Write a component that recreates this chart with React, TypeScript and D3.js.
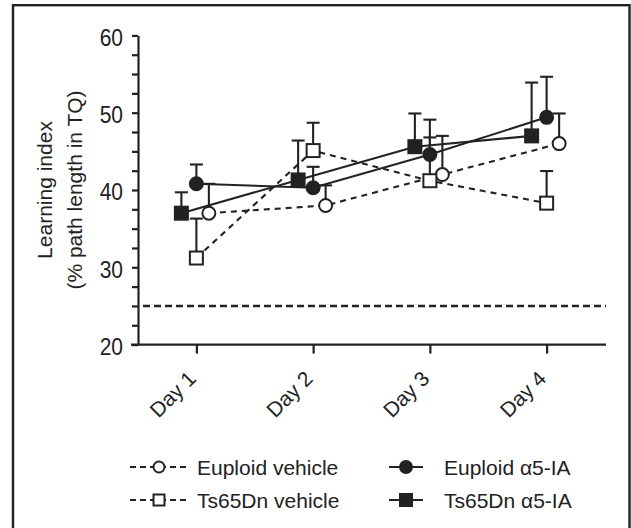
import React, { useRef, useEffect } from "react";
import * as d3 from "d3";

const width = 631;
const height = 528;

const days = ["Day 1", "Day 2", "Day 3", "Day 4"];
const yTicks = [20, 30, 40, 50, 60];
const chanceLevel = 25;

const euploidVehicle = [37.0, 38.0, 42.0, 46.0];
const euploidVehicleSem = [3.8, 2.6, 5.0, 3.9];
const ts65dnVehicle = [31.2, 45.1, 41.2, 38.3];
const ts65dnVehicleSem = [5.1, 3.6, 5.6, 4.15];
const euploidDrug = [40.8, 40.3, 44.6, 49.4];
const euploidDrugSem = [2.5, 2.7, 4.5, 5.25];
const ts65dnDrug = [37.0, 41.3, 45.6, 47.0];
const ts65dnDrugSem = [2.7, 5.1, 4.3, 6.9];

const font = "'Liberation Sans', Arial, sans-serif";
const ink = "#222";

type Series = {
  name: string;
  values: number[];
  sem: number[];
  shape: "circle" | "square";
  filled: boolean;
  dashed: boolean;
  dx: number;
};

const series: Series[] = [
  { name: "Euploid vehicle", values: euploidVehicle, sem: euploidVehicleSem, shape: "circle", filled: false, dashed: true, dx: 12.5 },
  { name: "Ts65Dn vehicle", values: ts65dnVehicle, sem: ts65dnVehicleSem, shape: "square", filled: false, dashed: true, dx: 0 },
  { name: "Euploid α5-IA", values: euploidDrug, sem: euploidDrugSem, shape: "circle", filled: true, dashed: false, dx: 0 },
  { name: "Ts65Dn α5-IA", values: ts65dnDrug, sem: ts65dnDrugSem, shape: "square", filled: true, dashed: false, dx: -15 },
];

function drawMarker(g: any, s: Series, cx: number, cy: number, size: number) {
  if (s.shape === "circle") {
    g.append("circle")
      .attr("cx", cx)
      .attr("cy", cy)
      .attr("r", size / 2)
      .attr("fill", s.filled ? ink : "#fff")
      .attr("stroke", ink)
      .attr("stroke-width", 2);
  } else {
    g.append("rect")
      .attr("x", cx - size / 2)
      .attr("y", cy - size / 2)
      .attr("width", size)
      .attr("height", size)
      .attr("fill", s.filled ? ink : "#fff")
      .attr("stroke", ink)
      .attr("stroke-width", 2);
  }
}

export default function App() {
  const ref = useRef<SVGSVGElement | null>(null);

  useEffect(() => {
    const svg = d3.select(ref.current);
    svg.selectAll("*").remove();

    const x = d3.scalePoint<string>().domain(days).range([138, 605]).padding(0.5);
    const y = d3.scaleLinear().domain([20, 60]).range([344.6, 35.4]);

    // frame
    svg
      .append("rect")
      .attr("x", 13)
      .attr("y", 5.2)
      .attr("width", 616.5)
      .attr("height", 540)
      .attr("fill", "none")
      .attr("stroke", ink)
      .attr("stroke-width", 2.4);

    // Y axis
    const yAxis = svg
      .append("g")
      .attr("transform", "translate(138,0)")
      .call(
        d3
          .axisLeft(y)
          .tickValues(d3.range(20, 60.01, 2.5))
          .tickSize(6)
          .tickSizeOuter(0)
          .tickFormat((d: any) => (yTicks.includes(+d) ? String(d) : ""))
      );
    yAxis.select(".domain").attr("stroke", ink).attr("stroke-width", 2.2);
    yAxis.selectAll(".tick line").attr("stroke", ink).attr("stroke-width", 2.2);
    yAxis
      .selectAll(".tick text")
      .attr("x", -15)
      .attr("transform", "translate(0,2.5) scale(1,1.1)")
      .attr("fill", ink)
      .attr("font-size", 21)
      .attr("font-family", font);

    // X axis
    const xAxis = svg
      .append("g")
      .attr("transform", "translate(0,344.6)")
      .call(d3.axisBottom(x).tickSize(9).tickSizeOuter(0).tickFormat(() => ""));
    xAxis.select(".domain").remove();
    xAxis.selectAll(".tick line").attr("stroke", ink).attr("stroke-width", 2.2);
    svg
      .append("line")
      .attr("x1", 131)
      .attr("x2", 606)
      .attr("y1", 344.6)
      .attr("y2", 344.6)
      .attr("stroke", ink)
      .attr("stroke-width", 2.2);

    svg
      .selectAll("text.day")
      .data(days)
      .enter()
      .append("text")
      .attr("class", "day")
      .attr("transform", (d) => `translate(${x(d)! + 1},${380}) rotate(-45)`)
      .attr("text-anchor", "end")
      .attr("font-size", 21)
      .attr("font-family", font)
      .attr("fill", ink)
      .text((d) => d);

    // Y label
    const yl = svg
      .append("text")
      .attr("transform", `translate(0,${(y(20) + y(60)) / 2}) rotate(-90)`)
      .attr("text-anchor", "middle")
      .attr("font-size", 21)
      .attr("font-family", font)
      .attr("fill", ink);
    yl.append("tspan").attr("x", 0).attr("y", 52).text("Learning index");
    yl.append("tspan").attr("x", 0).attr("y", 82).text("(% path length in TQ)");

    // chance line
    svg
      .append("line")
      .attr("x1", 143)
      .attr("x2", 606)
      .attr("y1", y(chanceLevel))
      .attr("y2", y(chanceLevel))
      .attr("stroke", ink)
      .attr("stroke-width", 2.5)
      .attr("stroke-dasharray", "7,4");

    const px = (s: Series, i: number) => x(days[i])! + s.dx;

    // connecting lines
    series.forEach((s) => {
      const line = d3
        .line<number>()
        .x((_, i) => px(s, i))
        .y((v) => y(v));
      svg
        .append("path")
        .attr("d", line(s.values))
        .attr("fill", "none")
        .attr("stroke", ink)
        .attr("stroke-width", 2.1)
        .attr("stroke-dasharray", s.dashed ? "6,5" : null);
    });

    // error bars (upper only)
    series.forEach((s) => {
      s.values.forEach((v, i) => {
        const cx = px(s, i);
        const top = y(v + s.sem[i]);
        svg
          .append("line")
          .attr("x1", cx)
          .attr("x2", cx)
          .attr("y1", y(v))
          .attr("y2", top)
          .attr("stroke", ink)
          .attr("stroke-width", 2.1);
        svg
          .append("line")
          .attr("x1", cx - 6.5)
          .attr("x2", cx + 6.5)
          .attr("y1", top)
          .attr("y2", top)
          .attr("stroke", ink)
          .attr("stroke-width", 2.1);
      });
    });

    // markers
    series.forEach((s) => {
      const g = svg.append("g");
      s.values.forEach((v, i) => drawMarker(g, s, px(s, i), y(v), 13));
    });

    // legend
    const legendRows = [467, 500];
    series.forEach((s) => {
      const col = s.filled ? 1 : 0;
      const row = s.shape === "circle" ? 0 : 1;
      const ly = legendRows[row];
      const g = svg.append("g");
      if (col === 0) {
        g.append("line")
          .attr("x1", 130)
          .attr("x2", 188)
          .attr("y1", ly)
          .attr("y2", ly)
          .attr("stroke", ink)
          .attr("stroke-width", 2)
          .attr("stroke-dasharray", "6,4");
        drawMarker(g, s, 159, ly, 11);
      } else {
        g.append("line")
          .attr("x1", 389)
          .attr("x2", 423)
          .attr("y1", ly)
          .attr("y2", ly)
          .attr("stroke", ink)
          .attr("stroke-width", 2);
        drawMarker(g, s, 406, ly, 12);
      }
      g.append("text")
        .attr("x", col === 0 ? 197 : 444)
        .attr("y", ly + 7.5)
        .attr("font-size", 21)
        .attr("font-family", font)
        .attr("fill", ink)
        .text(s.name);
    });
  }, []);

  return (
    <svg
      ref={ref}
      width={width}
      height={height}
      style={{ position: "absolute", left: 0, top: 0, background: "#fff" }}
    />
  );
}
